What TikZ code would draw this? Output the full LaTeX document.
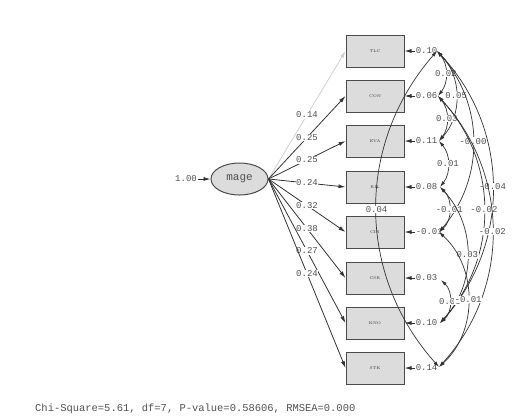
\documentclass[tikz,border=0pt]{standalone}
\usepackage{fontspec}
\setmonofont{Liberation Mono}
\usetikzlibrary{shapes.geometric,arrows.meta}
\definecolor{boxfill}{HTML}{DCDCDC}
\definecolor{boxline}{HTML}{4A4A4A}
\definecolor{linec}{HTML}{333333}
\definecolor{txt}{HTML}{505050}
\definecolor{pale}{HTML}{CFCFCF}
\begin{document}
\begin{tikzpicture}[x=1bp,y=-1bp,
 obs/.style={draw=boxline, fill=boxfill, line width=1bp, minimum width=58bp, minimum height=32bp, inner sep=0pt, font=\fontsize{4}{4}\selectfont\rmfamily, text=black!80},
 lat/.style={ellipse, draw=boxline, fill=boxfill, line width=1bp, minimum width=57bp, minimum height=32bp, inner sep=0pt, font=\ttfamily\fontsize{11}{11}\selectfont, text=txt},
 num/.style={font=\ttfamily\fontsize{9}{9}\selectfont, text=txt, inner sep=0.6bp},
 lab/.style={num, fill=white},
 arr/.style={draw=linec, line width=0.8bp, -{Latex[length=7bp,width=4bp]}},
 palearr/.style={draw=pale, line width=0.8bp, -{Latex[length=7bp,width=4bp]}},
 cov/.style={draw=linec, line width=0.7bp, {Latex[length=6bp,width=3.5bp]}-{Latex[length=6bp,width=3.5bp]}},
]
\useasboundingbox (0,0) rectangle (515,417);

% latent variable
\node[lat] (mage) at (239.5,179) {mage};
\node[num] (one) at (186,179) {1.00};
\draw[arr] (one.east) -- (mage.west);

% observed variables
\node[obs] (TLC) at (375,51) {TLC};
\node[obs] (CON) at (375,96) {CON};
\node[obs] (EVA) at (375,141) {EVA};
\node[obs] (RIL) at (375,187) {RIL};
\node[obs] (CIN) at (375,232) {CIN};
\node[obs] (CSR) at (375,278) {CSR};
\node[obs] (KNO) at (375,323) {KNO};
\node[obs] (STK) at (375,368) {STK};

% loadings
\draw[palearr] (mage.east) -- node[lab, midway] {0.14} (TLC.west);
\draw[arr] (mage.east) -- node[lab, midway] {0.25} (CON.west);
\draw[arr] (mage.east) -- node[lab, midway] {0.25} (EVA.west);
\draw[arr] (mage.east) -- node[lab, midway] {0.24} (RIL.west);
\draw[arr] (mage.east) -- node[lab, midway] {0.32} (CIN.west);
\draw[arr] (mage.east) -- node[lab, midway] {0.38} (CSR.west);
\draw[arr] (mage.east) -- node[lab, midway] {0.27} (KNO.west);
\draw[arr] (mage.east) -- node[lab, midway] {0.24} (STK.west);

% error variances
\node[num, anchor=west] (vTLC) at (415,51) {0.10};
\node[num, anchor=west] (vCON) at (415,96) {0.06};
\node[num, anchor=west] (vEVA) at (415,141) {0.11};
\node[num, anchor=west] (vRIL) at (415,187) {0.08};
\node[num, anchor=west] (vCIN) at (415,232) {-0.01};
\node[num, anchor=west] (vCSR) at (415,278) {0.03};
\node[num, anchor=west] (vKNO) at (415,323) {0.10};
\node[num, anchor=west] (vSTK) at (415,368) {0.14};
\foreach \v in {TLC,CON,EVA,RIL,CIN,CSR,KNO,STK}
  \draw[arr] (v\v.west) -- (\v.east);

% covariance attachment points
\coordinate (eTLC) at (437,51);
\coordinate (eCON) at (438,96);
\coordinate (eEVA) at (439,141);
\coordinate (eRIL) at (440,187);
\coordinate (eCIN) at (439,232);
\coordinate (eCSR) at (441,280);
\coordinate (eKNO) at (440,323);
\coordinate (eSTK) at (439,367);

% covariances
\draw[cov] (eTLC) to[bend left=39] node[lab] {0.02} (eCON);
\draw[cov] (eTLC) to[bend left=43.6] node[lab] {0.05} (eEVA);
\draw[cov] (eCON) to[bend left=39] node[lab] {0.03} (eEVA);
\draw[cov] (eTLC) to[bend left=41.2] node[lab] {-0.00} (eCIN);
\draw[cov] (eEVA) to[bend left=39] node[lab] {0.01} (eRIL);
\draw[cov] (eTLC) to[bend left=42.6] node[lab] {-0.04} (eKNO);
\draw[cov] (eRIL) to[bend left=47.9] node[lab] {-0.01} (eCIN);
\draw[cov] (eCON) to[bend left=42.4] node[lab] {-0.02} (eKNO);
\draw[cov] (eCON) to[bend left=42.6] node[lab] {-0.02} (eSTK);
\draw[cov] (eRIL) to[bend left=43.4] node[lab] {0.03} (eKNO);
\draw[cov] (eCSR) to[bend left=48] node[lab] {0.00} (eKNO);
\draw[cov] (eCIN) to[bend left=47.6] node[lab] {-0.01} (eSTK);
\draw[cov] (eTLC) to[bend right=41.5] node[lab] {0.04} (eSTK);

% fit statistics
\node[font=\ttfamily\fontsize{10.5}{10.5}\selectfont, text=txt, anchor=west, inner sep=0pt] (fit) at (35,409) {Chi-Square=5.61, df=7, P-value=0.58606, RMSEA=0.000};
\end{tikzpicture}
\end{document}
